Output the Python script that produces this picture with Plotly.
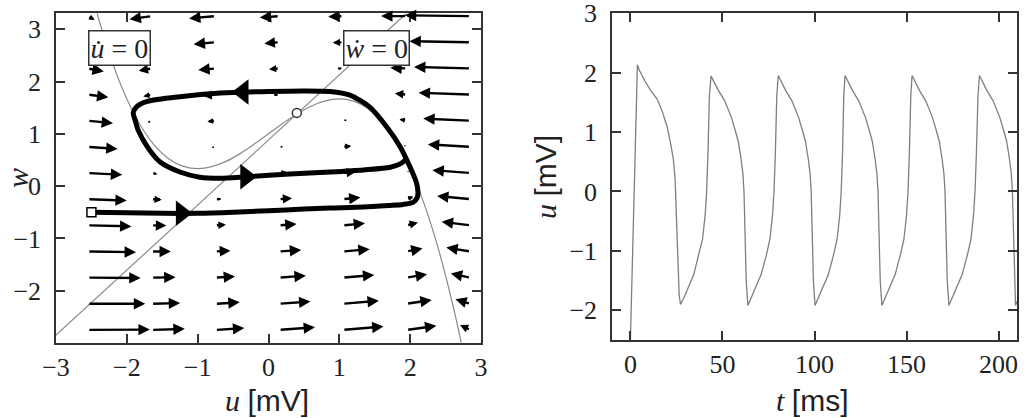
import math
import plotly.graph_objects as go

# ---------------- phase plane data ----------------
# flow-field grid (arrow tails) and flow components
grid_u = [-2.55, -1.65, -0.75, 0.15, 1.05, 1.95, 2.85]
grid_w = [-2.75, -2.25, -1.75, -1.25, -0.75, -0.25, 0.25, 0.75, 1.25, 1.75, 2.25, 2.75, 3.25]
flow_du = [
    [6.73, 3.60, 3.14, 3.90, 4.41, 3.23, -1.12],
    [6.23, 3.10, 2.64, 3.40, 3.91, 2.73, -1.62],
    [5.73, 2.60, 2.14, 2.90, 3.41, 2.23, -2.12],
    [5.23, 2.10, 1.64, 2.40, 2.91, 1.73, -2.62],
    [4.73, 1.60, 1.14, 1.90, 2.41, 1.23, -3.12],
    [4.23, 1.10, 0.64, 1.40, 1.91, 0.73, -3.62],
    [3.73, 0.60, 0.14, 0.90, 1.41, 0.23, -4.12],
    [3.23, 0.10, -0.36, 0.40, 0.91, -0.27, -4.62],
    [2.73, -0.40, -0.86, -0.10, 0.41, -0.77, -5.12],
    [2.23, -0.90, -1.36, -0.60, -0.09, -1.27, -5.62],
    [1.73, -1.40, -1.86, -1.10, -0.59, -1.77, -6.12],
    [1.23, -1.90, -2.36, -1.60, -1.09, -2.27, -6.62],
    [0.73, -2.40, -2.86, -2.10, -1.59, -2.77, -7.12],
]
flow_dw = [
    [0.046, 0.158, 0.270, 0.382, 0.494, 0.606, 0.718],
    [-0.004, 0.108, 0.220, 0.332, 0.444, 0.556, 0.668],
    [-0.054, 0.058, 0.170, 0.282, 0.394, 0.506, 0.618],
    [-0.104, 0.008, 0.120, 0.232, 0.344, 0.456, 0.568],
    [-0.154, -0.042, 0.070, 0.182, 0.294, 0.406, 0.518],
    [-0.204, -0.092, 0.020, 0.132, 0.244, 0.356, 0.468],
    [-0.254, -0.142, -0.030, 0.082, 0.194, 0.306, 0.418],
    [-0.304, -0.192, -0.080, 0.032, 0.144, 0.256, 0.368],
    [-0.354, -0.242, -0.130, -0.018, 0.094, 0.206, 0.318],
    [-0.404, -0.292, -0.180, -0.068, 0.044, 0.156, 0.268],
    [-0.454, -0.342, -0.230, -0.118, -0.006, 0.106, 0.218],
    [-0.504, -0.392, -0.280, -0.168, -0.056, 0.056, 0.168],
    [-0.554, -0.442, -0.330, -0.218, -0.106, 0.006, 0.118],
]

# u-nullcline (cubic) sampled points
ncu_u = [-2.42, -2.3, -2.2, -2.1, -2.0, -1.8, -1.6, -1.4, -1.2, -1.0, -0.8, -0.6, -0.4, -0.2,
         0.0, 0.2, 0.4, 0.6, 0.8, 1.0, 1.2, 1.4, 1.6, 1.8, 2.0, 2.2, 2.4, 2.6, 2.72]
ncu_w = [3.304, 2.756, 2.349, 1.987, 1.667, 1.144, 0.765, 0.515, 0.376, 0.333, 0.371, 0.472,
         0.621, 0.803, 1.0, 1.197, 1.379, 1.528, 1.629, 1.667, 1.624, 1.485, 1.235, 0.856,
         0.333, -0.349, -1.208, -2.259, -2.988]
# w-nullcline (straight line) end points
ncw_u = [-3.0, 1.94]
ncw_w = [-2.85, 3.296]

# trajectory
traj_u = [-2.5, -2.0, -1.5, -1.0, -0.5, 0.0, 0.5, 0.87, 1.34, 1.70, 1.90, 2.04, 2.10, 2.11,
          2.09, 2.0, 1.86, 1.67, 1.43, 1.15, 0.87, 0.5, 0.0, -0.68, -1.25, -1.71, -1.86, -1.91,
          -1.88, -1.84, -1.71, -1.53, -1.25, -0.97, -0.68, -0.3, 0.3, 0.87, 1.34, 1.72, 1.90, 1.96]
traj_w = [-0.50, -0.51, -0.52, -0.52, -0.50, -0.47, -0.44, -0.42, -0.40, -0.37, -0.35, -0.31,
          -0.22, -0.13, 0.06, 0.36, 0.75, 1.13, 1.51, 1.74, 1.81, 1.82, 1.81, 1.78, 1.71, 1.62,
          1.52, 1.40, 1.25, 1.07, 0.75, 0.46, 0.27, 0.17, 0.15, 0.18, 0.23, 0.27, 0.31, 0.36,
          0.46, 0.55]
# direction marks on the trajectory
dir_u = [-1.23, -0.32, -0.36]
dir_w = [-0.52, 0.18, 1.80]
dir_sym = ["triangle-right", "triangle-right", "triangle-left"]

start_u, start_w = [-2.5], [-0.5]
fixed_u, fixed_w = [0.40], [1.40]

# ---------------- time course data ----------------
t_ms = [0, 1.2, 2.4, 3.2, 3.8, 5, 8, 11, 14.6, 17.5, 20, 22, 23.3, 24.3, 25, 25.8, 26.5, 27.2,
        29.2, 34.4, 37.4, 39.2, 40.6, 41.4, 42.1, 42.9, 43.8,
        44.8, 47.8, 51.3, 54.8, 57.0, 58.6, 60.1, 61.1, 61.7, 62.3, 62.9, 63.8,
        65.8, 71.0, 74.0, 75.8, 77.2, 78.0, 78.7, 79.5, 80.3,
        81.3, 84.3, 87.8, 91.3, 93.5, 95.1, 96.6, 97.6, 98.2, 98.8, 99.4, 100.3,
        102.3, 107.5, 110.5, 112.3, 113.7, 114.5, 115.2, 115.9, 116.6,
        117.6, 120.6, 124.1, 127.6, 129.8, 131.4, 132.9, 133.9, 134.5, 135.1, 135.7, 136.6,
        138.6, 143.8, 146.8, 148.6, 150.0, 150.8, 151.5, 152.3, 153.0,
        154.0, 157.0, 160.5, 164.0, 166.2, 167.8, 169.3, 170.3, 170.9, 171.5, 172.1, 173.0,
        175.0, 180.2, 183.2, 185.0, 186.4, 187.2, 187.9, 188.8, 189.6,
        190.6, 193.6, 197.1, 200.6, 202.8, 204.4, 205.9, 206.9, 207.5, 208.1, 208.6, 209.2, 210]
u_mv = [-2.5, -1.0, 0.5, 1.6, 2.13, 2.03, 1.85, 1.70, 1.55, 1.33, 1.08, 0.78, 0.55, 0.2, -0.5,
        -1.3, -1.75, -1.90,
        -1.78, -1.40, -1.05, -0.80, -0.40, 0.0, 0.6, 1.60, 1.94,
        1.88, 1.70, 1.52, 1.25, 1.02, 0.84, 0.55, 0.30, 0.0, -0.8, -1.5, -1.92,
        -1.78, -1.40, -1.05, -0.80, -0.40, 0.0, 0.6, 1.60, 1.95,
        1.88, 1.70, 1.52, 1.25, 1.02, 0.84, 0.55, 0.30, 0.0, -0.8, -1.5, -1.92,
        -1.78, -1.40, -1.05, -0.80, -0.40, 0.0, 0.6, 1.60, 1.95,
        1.88, 1.70, 1.52, 1.25, 1.02, 0.84, 0.55, 0.30, 0.0, -0.8, -1.5, -1.92,
        -1.78, -1.40, -1.05, -0.80, -0.40, 0.0, 0.6, 1.60, 1.95,
        1.88, 1.70, 1.52, 1.25, 1.02, 0.84, 0.55, 0.30, 0.0, -0.8, -1.5, -1.92,
        -1.78, -1.40, -1.05, -0.80, -0.40, 0.0, 0.6, 1.60, 1.95,
        1.88, 1.70, 1.52, 1.25, 1.02, 0.84, 0.55, 0.30, 0.0, -0.8, -1.6, -1.92, -1.85]

x1_ticks = [-3, -2, -1, 0, 1, 2, 3]
y1_ticks = [-2, -1, 0, 1, 2, 3]
x2_ticks = [0, 50, 100, 150, 200]
y2_ticks = [-2, -1, 0, 1, 2, 3]

# ---------------- styling ----------------
W, H = 1026, 418
X1_DOM = [56 / W, 481 / W]
Y1_DOM = [1 - 343 / H, 1 - 13 / H]
X2_DOM = [612 / W, 1017 / W]
Y2_DOM = [1 - 340 / H, 1 - 13 / H]
X1_RANGE = [-3, 3]
Y1_RANGE = [-3.0, 3.31]
ARROW_SCALE = 0.13
FRAME = "#333333"
TEXT = "#222222"
SERIF = "Liberation Serif"
SANS = "Liberation Sans"

fig = go.Figure()

fig.add_trace(go.Scatter(x=ncu_u, y=ncu_w, mode="lines", line=dict(color="#8a8a8a", width=1.2,
                                                                   shape="spline"),
                         xaxis="x", yaxis="y", hoverinfo="skip"))
fig.add_trace(go.Scatter(x=ncw_u, y=ncw_w, mode="lines", line=dict(color="#8a8a8a", width=1.2),
                         xaxis="x", yaxis="y", hoverinfo="skip"))
fig.add_trace(go.Scatter(x=traj_u, y=traj_w, mode="lines",
                         line=dict(color="black", width=5, shape="spline", smoothing=0.7),
                         xaxis="x", yaxis="y", hoverinfo="skip"))
fig.add_trace(go.Scatter(x=dir_u, y=dir_w, mode="markers",
                         marker=dict(symbol=dir_sym, size=22, color="black"),
                         xaxis="x", yaxis="y", hoverinfo="skip"))
fig.add_trace(go.Scatter(x=start_u, y=start_w, mode="markers",
                         marker=dict(symbol="square", size=9, color="white",
                                     line=dict(color="black", width=1.5)),
                         xaxis="x", yaxis="y", hoverinfo="skip"))
fig.add_trace(go.Scatter(x=fixed_u, y=fixed_w, mode="markers",
                         marker=dict(symbol="circle", size=9, color="white",
                                     line=dict(color="#333", width=1.5)),
                         xaxis="x", yaxis="y", hoverinfo="skip"))

fig.add_trace(go.Scatter(x=t_ms, y=u_mv, mode="lines", line=dict(color="#7f7f7f", width=1.3),
                         xaxis="x2", yaxis="y2", hoverinfo="skip"))

# flow field arrows
px_per_u = (X1_DOM[1] - X1_DOM[0]) * W / (X1_RANGE[1] - X1_RANGE[0])
px_per_w = (Y1_DOM[1] - Y1_DOM[0]) * H / (Y1_RANGE[1] - Y1_RANGE[0])
annotations = []
for i, w0 in enumerate(grid_w):
    for j, u0 in enumerate(grid_u):
        du = flow_du[i][j] * ARROW_SCALE
        dw = flow_dw[i][j] * ARROW_SCALE
        lpx = math.hypot(du * px_per_u, dw * px_per_w)
        frac = min(1.0, lpx / 16.0)
        size = max(0.3, 0.95 * frac)
        width = 2.4 if frac > 0.45 else max(0.8, 2.4 * frac / 0.45)
        annotations.append(dict(x=u0 + du, y=w0 + dw, ax=u0, ay=w0, xref="x", yref="y",
                                axref="x", ayref="y", text="", showarrow=True,
                                arrowhead=2, arrowsize=size, arrowwidth=width,
                                arrowcolor="black"))

# nullcline labels
for lx, ly, txt in [(-2.10, 2.65, "<i>u\u0307</i> = 0"), (1.53, 2.65, "<i>w\u0307</i> = 0")]:
    annotations.append(dict(x=lx, y=ly, xref="x", yref="y", text=txt, showarrow=False,
                            xanchor="center", yanchor="middle",
                            font=dict(family=SERIF, size=28, color=TEXT),
                            bgcolor="white", bordercolor="#333", borderwidth=1.5,
                            borderpad=1))

# axis titles
title_font = dict(family=SERIF, size=30, color=TEXT)
annotations += [
    dict(x=267 / W, y=1 - 400 / H, xref="paper", yref="paper", showarrow=False,
         xanchor="center", yanchor="middle",
         text=f"<i>u</i> <span style='font-family:{SANS}'>[mV]</span>", font=title_font),
    dict(x=17 / W, y=1 - 178 / H, xref="paper", yref="paper", showarrow=False, textangle=-90,
         xanchor="center", yanchor="middle", text="<i>w</i>", font=title_font),
    dict(x=812 / W, y=1 - 400 / H, xref="paper", yref="paper", showarrow=False,
         xanchor="center", yanchor="middle",
         text=f"<i>t</i> <span style='font-family:{SANS}'>[ms]</span>", font=title_font),
    dict(x=545 / W, y=1 - 177 / H, xref="paper", yref="paper", showarrow=False, textangle=-90,
         xanchor="center", yanchor="middle",
         text=f"<i>u</i> <span style='font-family:{SANS}'>[mV]</span>", font=title_font),
]

axis_common = dict(showline=True, linecolor=FRAME, linewidth=1.5, mirror="ticks",
                   ticks="inside", ticklen=9, tickwidth=1.5, tickcolor=FRAME,
                   showgrid=False, zeroline=False, automargin=False,
                   ticklabeloverflow="allow",
                   tickfont=dict(family=SERIF, size=26, color=TEXT))

fig.update_layout(
    width=W, height=H, margin=dict(l=0, r=0, t=0, b=0),
    paper_bgcolor="white", plot_bgcolor="white", showlegend=False,
    annotations=annotations,
    xaxis=dict(domain=X1_DOM, range=X1_RANGE, tickvals=x1_ticks, anchor="y",
               ticklabelstandoff=0, **axis_common),
    yaxis=dict(domain=Y1_DOM, range=Y1_RANGE, tickvals=y1_ticks, anchor="x",
               ticklabelstandoff=8, **axis_common),
    xaxis2=dict(domain=X2_DOM, range=[-10, 210], tickvals=x2_ticks, anchor="y2",
                ticklabelstandoff=0, **axis_common),
    yaxis2=dict(domain=Y2_DOM, range=[-2.5, 3.002], tickvals=y2_ticks, anchor="x2",
                ticklabelstandoff=8, **axis_common),
)

fig.write_html("out.html")
